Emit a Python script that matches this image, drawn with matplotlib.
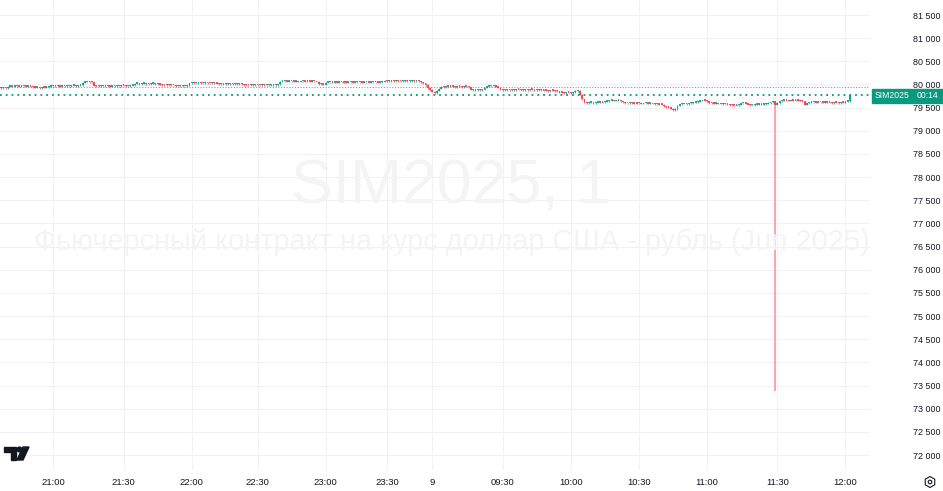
import numpy as np
import matplotlib.pyplot as plt
from matplotlib.patches import Rectangle, Polygon, Circle, RegularPolygon
from matplotlib.transforms import IdentityTransform

# 1-minute closes
# evening session, bars 0..189 (about 20:37 - 23:49)
evening_close = [
    79925, 79930, 79920,
    79950, 79960, 79955, 79965, 79960, 79950, 79960, 79965, 79955, 79960, 79950, 79940,
    79930, 79935, 79925, 79940, 79930, 79945, 79955,
    79965, 79960, 79970, 79965, 79955, 79960, 79970, 79965, 79960, 79970, 79975, 79965, 79970, 79980,
    80040, 80060, 80055, 80050, 80045,
    79975, 79965, 79970, 79960, 79965, 79970, 79960, 79955, 79965, 79970,
    79960, 79965, 79975, 79970, 79960, 79965, 79970, 79980,
    80015, 80020, 80010, 80015, 80020, 80010, 80005, 80015, 80020, 80010, 80005,
    79995, 79990, 79985, 79995, 79990, 79985, 79980,
    79965, 79960, 79970, 79965, 79960, 79975,
    80030, 80035, 80025, 80030, 80040, 80030, 80025, 80035, 80030, 80025, 80035, 80030, 80020,
    80010, 80015, 80005, 80010, 80015, 80005, 80010, 80000, 80010, 80015, 80005,
    79990, 79985, 79980, 79990, 79985, 79995, 79985, 79980, 79990, 79985,
    79980, 79990, 79995, 79985, 79990, 80000,
    80060, 80065, 80070, 80060, 80065, 80070, 80060, 80065, 80055, 80065,
    80070, 80060, 80065, 80060, 80070, 80065, 80055,
    80005, 80000, 79995,
    80040, 80045, 80050, 80040, 80045, 80040, 80050, 80045, 80040, 80035,
    80045, 80050, 80040, 80045, 80050, 80045, 80040, 80045, 80050, 80040,
    80045, 80050, 80045, 80040, 80050, 80055,
    80075, 80070, 80080, 80075, 80070, 80080, 80075, 80070, 80075, 80080,
    80070, 80075, 80080, 80070, 80075, 80065,
    80050, 80030, 79990, 79925, 79880,
]
# day session, bars 190..374 (09:00 - 12:02)
day_close = [
    79840, 79815, 79870, 79910,
    79950, 79945, 79955, 79950, 79960, 79950, 79945, 79955, 79950, 79945, 79955, 79950, 79940,
    79885, 79880, 79875, 79885, 79880, 79890,
    79930, 79955, 79965, 79960, 79965, 79955, 79930,
    79885, 79880, 79890, 79880, 79875, 79885, 79880, 79890, 79885, 79880,
    79875, 79885, 79880, 79890, 79885, 79880, 79875, 79885, 79880, 79870,
    79865, 79860, 79870, 79865, 79860, 79850,
    79825, 79820, 79815, 79825, 79820, 79815, 79830,
    79860, 79870,
    79780, 79680, 79620, 79600,
    79605, 79610, 79600, 79605, 79615, 79610, 79620, 79630, 79640,
    79650, 79655, 79645, 79650, 79655, 79640, 79620,
    79595, 79590, 79600, 79590, 79585, 79595, 79590, 79580, 79590, 79595, 79585, 79590, 79580, 79575, 79570,
    79565, 79560,
    79530, 79510, 79500, 79480, 79450, 79470, 79540,
    79570, 79580, 79585, 79575, 79590, 79600, 79610, 79620, 79630,
    79645, 79655, 79650, 79640,
    79600, 79590, 79585, 79590, 79580, 79585, 79575, 79570, 79565,
    79555, 79550, 79545, 79555, 79560, 79590, 79595, 79585, 79560, 79550, 79555,
    79565, 79560, 79570, 79565, 79575, 79580, 79600,
    79620, 79640,
    79560,
    79600, 79640, 79650, 79655, 79650, 79645, 79655, 79650, 79660, 79650, 79645,
    79640, 79565, 79590,
    79610, 79615, 79620, 79610, 79615, 79620, 79610, 79615, 79610,
    79605, 79600, 79610, 79605, 79600, 79610, 79605,
    79630, 79640,
    79765,
]
spike_bar = 341        # 11:29 bar with the long lower wick
spike_low = 73380
last_price = 79765
ref_price = 79940      # grey dotted level

tick_bars = [23, 54, 84, 113, 143, 170, 190, 221, 251, 281, 311, 342, 372]
tick_labels = ["21:00", "21:30", "22:00", "22:30", "23:00", "23:30", "9",
               "09:30", "10:00", "10:30", "11:00", "11:30", "12:00"]
price_ticks = [72000, 72500, 73000, 73500, 74000, 74500, 75000, 75500, 76000,
               76500, 77000, 77500, 78000, 78500, 79000, 79500, 80000, 80500,
               81000, 81500]

GREEN = "#089981"
RED = "#f23645"
TEXT = "#131722"
GRID = "#f0f2f5"
FONT = "Liberation Sans"
W, H = 943, 491


def fx(px):
    return px / W


def fy(py):
    return 1 - py / H


def pix(px, py):
    # display coords (origin bottom-left) from top-left pixel position
    return (px, H - py)


fig = plt.figure(figsize=(W / 100, H / 100), dpi=100, facecolor="white")
ax = fig.add_axes([0, fy(470), fx(870), 470 / H])

closes = np.array(evening_close + day_close, dtype=float)
opens = np.r_[closes[0] - 5, closes[:-1]]
highs = np.maximum(opens, closes) + 12
lows = np.minimum(opens, closes) - 12
x = np.arange(len(closes))
colors = [GREEN if c >= o else RED for o, c in zip(opens, closes)]

ax.vlines(x, lows, highs, colors=colors, lw=0.8, alpha=0.7, zorder=3)
# long lower wick of the 11:29 bar
ax.vlines(x[spike_bar], spike_low, lows[spike_bar], colors="#f78d96", lw=1.1, zorder=3)
body = np.maximum(np.abs(closes - opens), 30)
ax.bar(x, body, bottom=np.minimum(opens, closes), width=0.8,
       color=colors, alpha=0.85, linewidth=0, zorder=4)

ax.axhline(ref_price, color="#9598a1", lw=0.8, ls=(0, (1, 1.5)), zorder=2)
ax.axhline(last_price, color=GREEN, lw=1.3, ls=(0, (1, 2.2)), zorder=2)

ax.set_xlim(-0.44, 382.8)
ax.set_ylim(71677, 81824)
ax.set_xticks(tick_bars)
ax.set_xticklabels(tick_labels, family=FONT)
ax.set_yticks(price_ticks)
ax.set_yticklabels([f"{p // 1000} {p % 1000:03d}" for p in price_ticks], family=FONT)
ax.yaxis.tick_right()
ax.tick_params(axis="y", length=0, pad=51, labelsize=6.4, labelcolor=TEXT)
ax.tick_params(axis="x", length=0, pad=6, labelsize=6.8, labelcolor=TEXT)
plt.setp(ax.get_yticklabels(), ha="right")
ax.grid(True, color=GRID, lw=0.8, zorder=0)
for s in ax.spines.values():
    s.set_visible(False)

# watermark
fig.text(fx(451), fy(187), "SIM2025, 1", ha="center", va="center",
         fontsize=45, color="#f4f4f4", family=FONT, zorder=0)
fig.text(fx(452), fy(242), "Фьючерсный контракт на курс доллар США - рубль (Jun 2025)",
         ha="center", va="center", fontsize=20.9, color="#f4f4f4",
         family=FONT, zorder=0)

# last price label
fig.add_artist(Rectangle((fx(872), fy(102.5)), fx(40), 14 / H, color=GREEN,
                         transform=fig.transFigure))
fig.add_artist(Rectangle((fx(913), fy(102.5)), fx(30), 14 / H, color=GREEN,
                         transform=fig.transFigure))
fig.text(fx(892), fy(95.5), "SIM2025", ha="center", va="center",
         fontsize=6.2, color="white", family=FONT)
fig.text(fx(927.5), fy(95.5), "00:14", ha="center", va="center",
         fontsize=6.2, color="white", family=FONT)

# TradingView logo
idt = IdentityTransform()
fig.add_artist(Polygon([pix(4, 447), pix(16, 447), pix(16, 460), pix(10.5, 460),
                        pix(10.5, 452), pix(4, 452)],
                       closed=True, color=TEXT, transform=idt))
fig.add_artist(Circle(pix(19.5, 449.5), 2.4, color=TEXT, transform=idt))
fig.add_artist(Polygon([pix(23, 447), pix(29, 447), pix(23, 460), pix(17, 460)],
                       closed=True, color=TEXT, transform=idt))

# settings icon
fig.add_artist(RegularPolygon(pix(930, 482), 6, radius=5.5, orientation=0,
                              fill=False, ec=TEXT, lw=0.8, transform=idt))
fig.add_artist(Circle(pix(930, 482), 1.8, fill=False, ec=TEXT, lw=0.8,
                      transform=idt))

fig.savefig("out.png", dpi=100, facecolor="white")
